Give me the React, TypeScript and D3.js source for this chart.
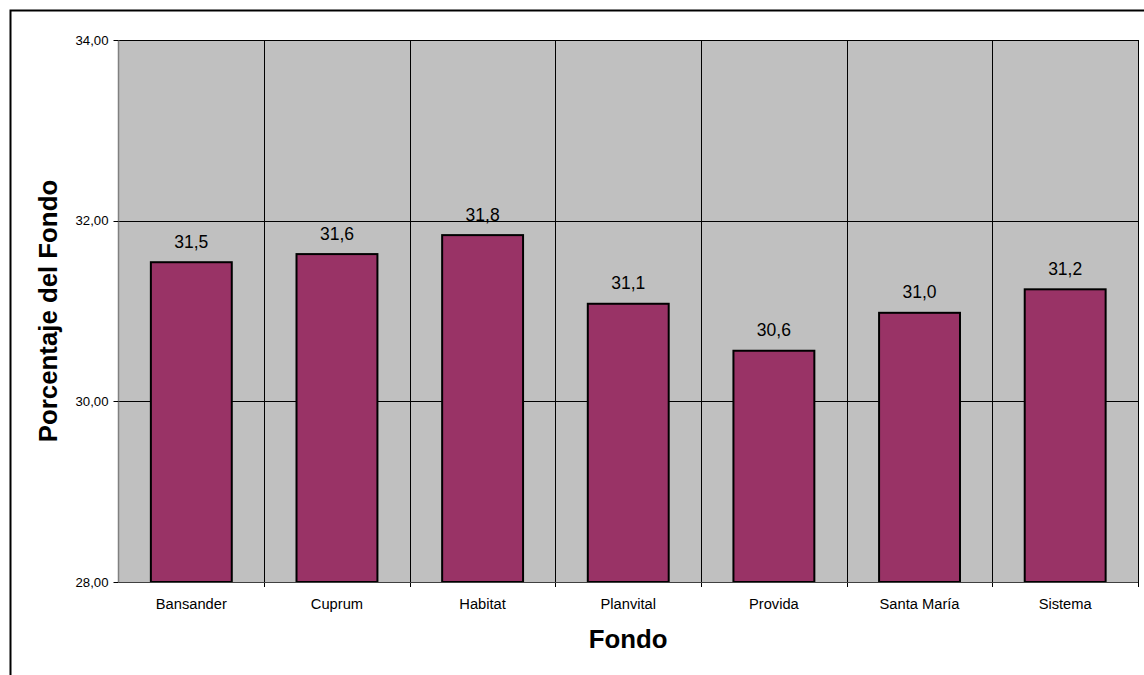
import { useEffect, useRef } from 'react';
import * as d3 from 'd3';

const fondos = ['Bansander', 'Cuprum', 'Habitat', 'Planvital', 'Provida', 'Santa María', 'Sistema'];
const porcentajes = [31.54, 31.63, 31.84, 31.08, 30.56, 30.98, 31.24];
const yTicks = [28, 30, 32, 34];

const esLocale = d3.formatLocale({ decimal: ',', thousands: '.', grouping: [3], currency: ['', ''] });

export default function App() {
  const svgRef = useRef<SVGSVGElement>(null);
  const width = 1144;
  const height = 675;

  useEffect(() => {
    if (!svgRef.current) return;
    const svg = d3.select(svgRef.current);
    svg.selectAll('*').remove();

    const plot = { left: 118.5, right: 1138, top: 40, bottom: 582 };
    const font = '"Liberation Sans", Arial, sans-serif';

    // outer frame (runs off the right/bottom edge like the original)
    svg.append('rect')
      .attr('x', 10.5)
      .attr('y', 10.5)
      .attr('width', 1300)
      .attr('height', 800)
      .attr('fill', '#fff')
      .attr('stroke', '#000')
      .attr('stroke-width', 2);

    const x = d3.scaleBand<string>()
      .domain(fondos)
      .range([plot.left, plot.right])
      .padding(0);

    const xBar = d3.scaleBand<string>()
      .domain(fondos)
      .range([plot.left, plot.right])
      .paddingInner(0.8 / 1.8)
      .paddingOuter(0.4 / 1.8);

    const y = d3.scaleLinear()
      .domain([28, 34])
      .range([plot.bottom, plot.top]);

    // plot area
    svg.append('rect')
      .attr('x', plot.left)
      .attr('y', plot.top)
      .attr('width', plot.right - plot.left)
      .attr('height', plot.bottom - plot.top)
      .attr('fill', '#C0C0C0');

    // horizontal gridlines
    svg.append('g')
      .selectAll('line')
      .data(yTicks.filter(t => t > 28))
      .enter()
      .append('line')
      .attr('x1', plot.left)
      .attr('x2', plot.right)
      .attr('y1', d => Math.round(y(d)) + 0.5)
      .attr('y2', d => Math.round(y(d)) + 0.5)
      .attr('stroke', '#000')
      .attr('stroke-width', 1);

    // vertical gridlines at category boundaries, extended as ticks below the axis
    const bounds = fondos.map(f => (x(f) as number) + x.bandwidth());
    svg.append('g')
      .selectAll('line')
      .data(bounds)
      .enter()
      .append('line')
      .attr('x1', d => Math.round(d) + 0.5)
      .attr('x2', d => Math.round(d) + 0.5)
      .attr('y1', plot.top)
      .attr('y2', plot.bottom + 5)
      .attr('stroke', '#000')
      .attr('stroke-width', 1);

    // bars
    svg.append('g')
      .selectAll('rect')
      .data(fondos)
      .enter()
      .append('rect')
      .attr('x', d => xBar(d) as number)
      .attr('y', (d, i) => y(porcentajes[i]))
      .attr('width', xBar.bandwidth())
      .attr('height', (d, i) => y(28) - y(porcentajes[i]))
      .attr('fill', '#993366')
      .attr('stroke', '#000')
      .attr('stroke-width', 2);

    // value labels
    svg.append('g')
      .selectAll('text')
      .data(fondos)
      .enter()
      .append('text')
      .attr('x', d => (xBar(d) as number) + xBar.bandwidth() / 2)
      .attr('y', (d, i) => y(porcentajes[i]) - 14.5)
      .attr('text-anchor', 'middle')
      .attr('font-size', '17.5px')
      .attr('fill', '#000')
      .style('font-family', font)
      .text((d, i) => esLocale.format('.1f')(porcentajes[i]));

    // axis lines
    svg.append('line')
      .attr('x1', plot.left)
      .attr('x2', plot.left)
      .attr('y1', plot.top)
      .attr('y2', plot.bottom)
      .attr('stroke', '#808080')
      .attr('stroke-width', 1.5);

    svg.append('line')
      .attr('x1', plot.left)
      .attr('x2', plot.right)
      .attr('y1', plot.bottom + 0.5)
      .attr('y2', plot.bottom + 0.5)
      .attr('stroke', '#404040')
      .attr('stroke-width', 1);

    // y ticks and labels
    const yAxis = svg.append('g');
    yAxis.selectAll('line')
      .data(yTicks)
      .enter()
      .append('line')
      .attr('x1', plot.left - 5)
      .attr('x2', plot.left)
      .attr('y1', d => Math.round(y(d)) + 0.5)
      .attr('y2', d => Math.round(y(d)) + 0.5)
      .attr('stroke', '#000');

    yAxis.selectAll('text')
      .data(yTicks)
      .enter()
      .append('text')
      .attr('x', plot.left - 10)
      .attr('y', d => y(d))
      .attr('dy', '0.35em')
      .attr('text-anchor', 'end')
      .attr('font-size', '13.2px')
      .attr('fill', '#000')
      .style('font-family', font)
      .text(d => esLocale.format('.2f')(d));

    // category labels
    svg.append('g')
      .selectAll('text')
      .data(fondos)
      .enter()
      .append('text')
      .attr('x', d => (x(d) as number) + x.bandwidth() / 2)
      .attr('y', 609)
      .attr('text-anchor', 'middle')
      .attr('font-size', '14.7px')
      .attr('fill', '#000')
      .style('font-family', font)
      .text(d => d);

    // axis titles
    svg.append('text')
      .attr('x', (plot.left + plot.right) / 2)
      .attr('y', 647.5)
      .attr('text-anchor', 'middle')
      .attr('font-size', '25.8px')
      .attr('font-weight', '700')
      .attr('fill', '#000')
      .style('font-family', font)
      .text('Fondo');

    svg.append('text')
      .attr('transform', `translate(57, ${(plot.top + plot.bottom) / 2}) rotate(-90)`)
      .attr('text-anchor', 'middle')
      .attr('font-size', '25.8px')
      .attr('font-weight', '700')
      .attr('fill', '#000')
      .style('font-family', font)
      .text('Porcentaje del Fondo');
  }, []);

  return (
    <svg
      ref={svgRef}
      width={width}
      height={height}
      style={{ position: 'absolute', left: 0, top: 0, background: '#fff' }}
    />
  );
}
